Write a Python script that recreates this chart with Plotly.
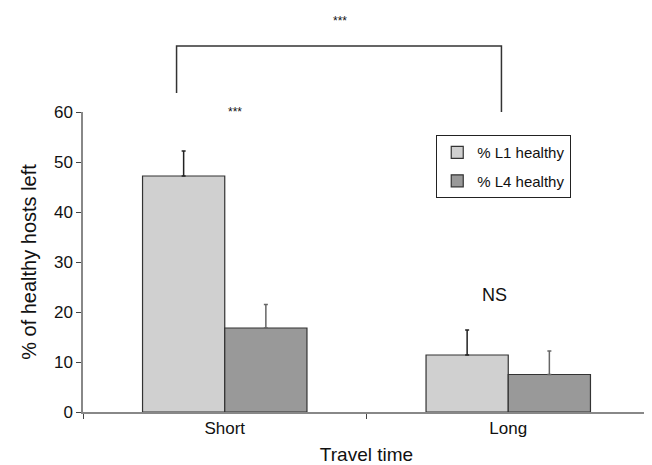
import plotly.graph_objects as go

categories = ["Short", "Long"]
l1_values = [47.2, 11.4]
l1_errors = [5.0, 5.0]
l4_values = [16.8, 7.5]
l4_errors = [4.7, 4.7]
series_names = ["% L1 healthy", "% L4 healthy"]
y_ticks = [0, 10, 20, 30, 40, 50, 60]

FONT = "Liberation Sans, Arial, sans-serif"

fig = go.Figure()
fig.add_trace(go.Bar(
    x=categories, y=l1_values, name=series_names[0], legendgroup="a",
    marker=dict(color="#d0d0d0", line=dict(color="#333333", width=1.2)),
    error_y=dict(type="data", array=l1_errors, arrayminus=[0, 0], symmetric=False,
                 color="#222222", thickness=1.5, width=2),
))
fig.add_trace(go.Bar(
    x=categories, y=l4_values, name=series_names[1], legendgroup="b",
    marker=dict(color="#999999", line=dict(color="#333333", width=1.2)),
    error_y=dict(type="data", array=l4_errors, arrayminus=[0, 0], symmetric=False,
                 color="#666666", thickness=1.5, width=2),
))

# page body adds an 8px margin, so the figure is 8px smaller and shifted
fig.update_layout(
    width=644, height=457,
    margin=dict(l=75, r=2, t=104, b=53, autoexpand=False),
    paper_bgcolor="white", plot_bgcolor="white",
    barmode="group", bargap=0.42, bargroupgap=0,
    font=dict(family=FONT, color="#111111", size=17),
    showlegend=True,
    legend=dict(x=0.623, y=0.923, xanchor="left", yanchor="top",
                bordercolor="#222222", borderwidth=1, bgcolor="white",
                font=dict(size=15, family=FONT), itemwidth=30,
                tracegroupgap=6),
)
fig.update_xaxes(
    type="category", tickson="boundaries", ticks="outside", ticklen=5,
    tickcolor="#444444", showline=True, linecolor="#888888", linewidth=1.5,
    showgrid=False, tickfont=dict(size=17), automargin=False,
    title=dict(text="Travel time", font=dict(size=19), standoff=12),
)
fig.update_yaxes(
    range=[0, 60], tickvals=y_ticks, ticks="outside", ticklen=5,
    tickcolor="#444444", showline=True, linecolor="#888888", linewidth=1.5,
    showgrid=False, zeroline=False, tickfont=dict(size=17), automargin=False,
    title=dict(text="% of healthy hosts left", font=dict(size=20), standoff=12),
)

# significance annotations (paper coordinates)
fig.add_annotation(x=0.252, xref="paper", y=1.03, yref="paper", text="***",
                   showarrow=False, font=dict(size=12))
fig.add_annotation(x=0.751, xref="paper", y=0.389, yref="paper", text="NS",
                   showarrow=False, font=dict(size=18))
fig.add_annotation(x=0.453, xref="paper", y=1.335, yref="paper", text="***",
                   showarrow=False, font=dict(size=12))
fig.add_shape(type="path", xref="paper", yref="paper",
              path="M 0.165,1.063 L 0.165,1.220 L 0.738,1.220 L 0.738,1.0",
              line=dict(color="#333333", width=1.5))

fig.write_html("out.html")
